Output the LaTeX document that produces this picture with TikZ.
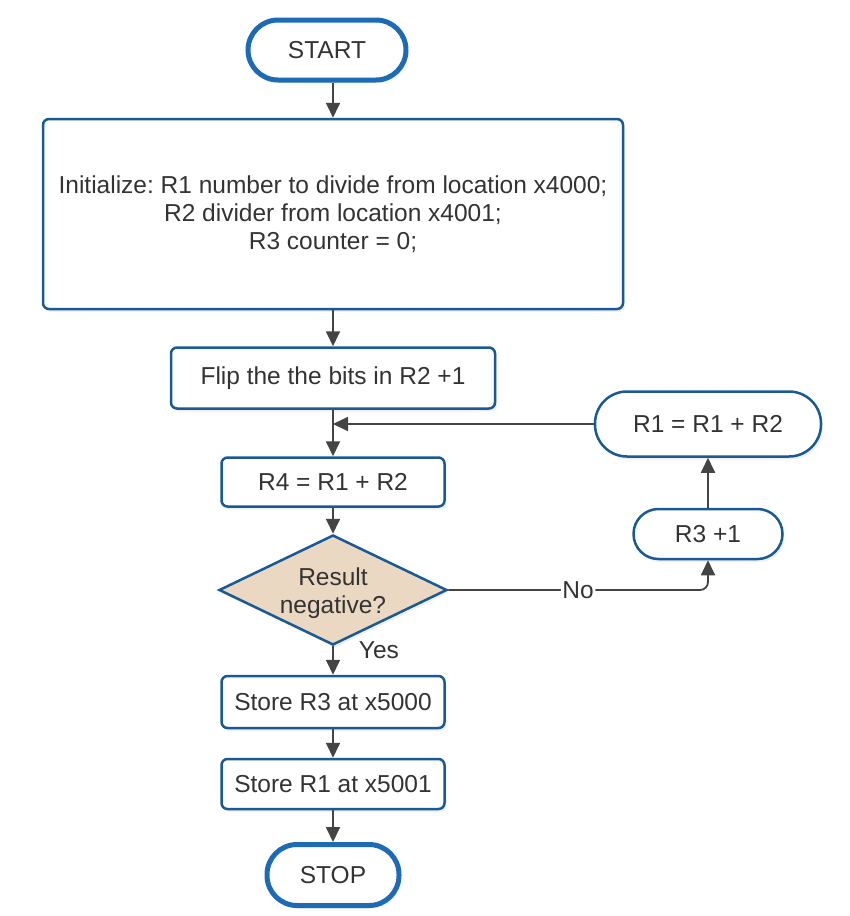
\documentclass[tikz,border=0pt]{standalone}
\usepackage{fontspec}
\setmainfont{Liberation Sans}
\usetikzlibrary{arrows.meta,shapes.geometric,shadows}
\definecolor{edgeblue}{HTML}{1A5A94}
\definecolor{termblue}{HTML}{1C6BB4}
\definecolor{txt}{HTML}{333333}
\definecolor{arr}{HTML}{444444}
\definecolor{tanfill}{HTML}{EBD8C2}
\frenchspacing
\begin{document}
\begin{tikzpicture}[x=1pt,y=-1pt,
  font=\fontsize{24.5}{28}\selectfont, text=txt,
  base/.style={draw=edgeblue, line width=2.5pt, fill=white, inner sep=0pt, align=center,
    drop shadow={opacity=0.12, shadow xshift=2pt, shadow yshift=-3pt}},
  box/.style={base, rectangle, rounded corners=6pt},
  pill/.style={base, rectangle, rounded corners=#1},
  term/.style={base, rectangle, rounded corners=30pt, draw=termblue, line width=5pt},
  decision/.style={base, diamond, fill=tanfill, aspect=2.07},
  conn/.style={draw=arr, line width=1.8pt, -{Triangle[width=14pt,length=15pt]}},
  lbl/.style={fill=white, inner sep=1.5pt, text=txt}
]
\useasboundingbox (0,0) rectangle (850,916);

\node[term, minimum width=158pt, minimum height=60pt] (start) at (327,50) {START};
\node[box, minimum width=580pt, minimum height=190pt] (init) at (333,214)
  {Initialize: R1 number to divide from location x4000;\\R2 divider from location x4001;\\R3 counter = 0;};
\node[box, minimum width=324pt, minimum height=61pt] (flip) at (333,378) {Flip the the bits in R2 +1};
\node[box, minimum width=223pt, minimum height=49pt] (r4) at (333,482) {R4 = R1 + R2};
\node[decision, minimum width=228pt, minimum height=110pt] (dec) at (333,590) {\rule{0pt}{24pt}Result\\negative?};
\node[box, minimum width=223pt, minimum height=52pt] (store3) at (333,702) {Store R3 at x5000};
\node[box, minimum width=223pt, minimum height=50pt] (store1) at (333,784) {Store R1 at x5001};
\node[term, minimum width=132pt, minimum height=61pt] (stop) at (333,875) {STOP};
\node[pill=32pt, minimum width=226pt, minimum height=65pt] (r1add) at (708,424) {R1 = R1 + R2};
\node[pill=25pt, minimum width=149pt, minimum height=50pt] (r3) at (708,534) {R3 +1};

\draw[conn] (init.north |- start.south) -- (init.north);
\draw[conn] (init.south) -- (flip.north);
\draw[conn] (flip.south) -- (r4.north);
\draw[conn] (r1add.west) -- (r1add.west -| flip.south);
\draw[conn] (r4.south) -- (dec.north);
\draw[conn, rounded corners=8pt] (dec.east) -- node[lbl] {No} (dec.east -| r3.south) -- (r3.south);
\draw[conn] (r3.north) -- (r1add.south);
\draw[conn] (dec.south) -- node[pos=0.15, right=23pt, inner sep=2pt] {Yes} (store3.north);
\draw[conn] (store3.south) -- (store1.north);
\draw[conn] (store1.south) -- (stop.north);
\end{tikzpicture}
\end{document}
